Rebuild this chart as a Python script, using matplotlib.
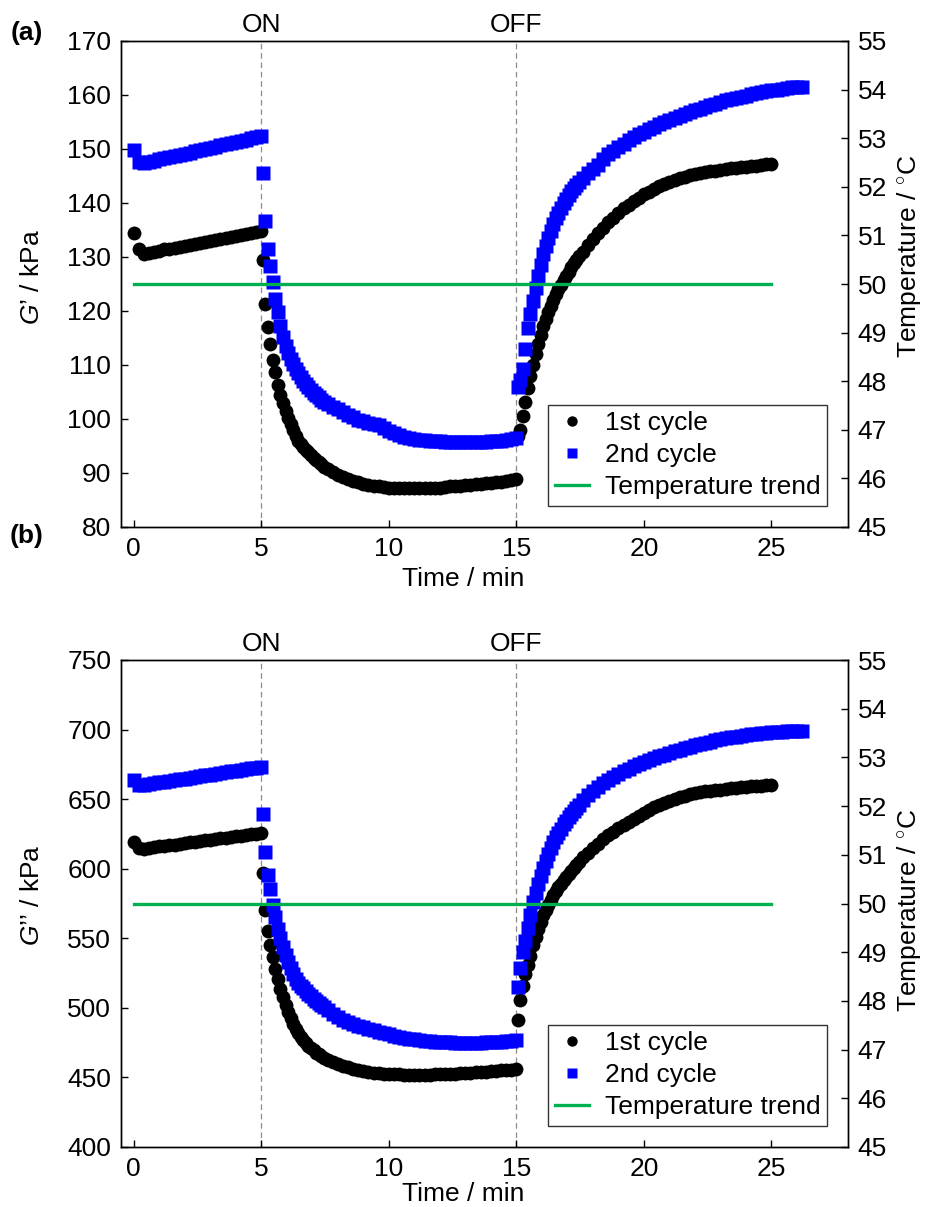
import numpy as np
import matplotlib
matplotlib.use("Agg")
from matplotlib import pyplot as plt

plt.rcParams['font.family'] = ['Liberation Sans', 'DejaVu Sans']
plt.rcParams['mathtext.fontset'] = 'custom'
plt.rcParams['mathtext.rm'] = 'Liberation Sans'
plt.rcParams['mathtext.it'] = 'Liberation Sans:italic'

# sampling grids (min): (start, step, count)
PRE = (0.0, 0.2, 26)       # 0 .. 5.0
HEAT_A = (5.05, 0.1, 25)   # 5.05 .. 7.45
HEAT_B = (7.6, 0.2, 38)    # 7.6 .. 15.0
COOL_A = (15.05, 0.1, 25)  # 15.05 .. 17.45
COOL_B = (17.6, 0.2, 38)   # 17.6 .. 25.0
COOL_B2 = (17.6, 0.2, 44)  # 17.6 .. 26.2 (2nd cycle runs longer)

# ---- (a) G' / kPa, 1st cycle ----
a1_pre = [134.5, 131.4, 130.6, 130.8, 131.0, 131.2, 131.4, 131.5, 131.7, 131.9,
          132.1, 132.3, 132.4, 132.6, 132.8, 133.0, 133.2, 133.3, 133.5, 133.7,
          133.9, 134.1, 134.3, 134.5, 134.7, 134.9]
a1_heat_a = [129.5, 121.3, 117.0, 113.8, 111.0, 108.7, 106.3, 104.5, 102.9, 101.5,
             100.2, 99.0, 97.9, 96.9, 96.0, 95.3, 94.8, 94.3, 93.8, 93.3,
             92.8, 92.4, 92.0, 91.6, 91.2]
a1_heat_b = [90.7, 90.2, 89.7, 89.3, 88.9, 88.6, 88.3, 88.0, 87.8, 87.6,
             87.5, 87.4, 87.3, 87.2, 87.2, 87.2, 87.2, 87.2, 87.2, 87.2,
             87.3, 87.3, 87.3, 87.4, 87.5, 87.5, 87.6, 87.7, 87.8, 87.9,
             88.0, 88.1, 88.2, 88.3, 88.4, 88.5, 88.7, 88.8]
a1_cool_a = [96.8, 98.0, 100.6, 103.2, 105.7, 108.0, 110.0, 112.0, 113.8, 115.5,
             117.2, 118.6, 119.8, 121.0, 122.1, 123.1, 124.0, 124.9, 125.7, 126.5,
             127.3, 128.1, 128.8, 129.5, 130.1]
a1_cool_b = [131.0, 132.2, 133.3, 134.4, 135.4, 136.4, 137.3, 138.2, 139.0, 139.7,
             140.4, 141.0, 141.6, 142.1, 142.6, 143.1, 143.5, 143.9, 144.3, 144.6,
             144.9, 145.2, 145.4, 145.6, 145.8, 145.9, 146.0, 146.2, 146.3, 146.4,
             146.5, 146.6, 146.7, 146.8, 146.9, 147.0, 147.2, 147.3]

# ---- (a) G' / kPa, 2nd cycle ----
a2_pre = [149.8, 147.6, 147.4, 147.6, 147.8, 148.1, 148.3, 148.5, 148.7, 148.9,
          149.1, 149.3, 149.6, 149.8, 150.0, 150.2, 150.4, 150.7, 150.9, 151.1,
          151.3, 151.5, 151.7, 152.0, 152.2, 152.4]
a2_heat_a = [145.5, 136.7, 131.5, 128.3, 125.3, 122.3, 119.8, 117.3, 115.2, 113.5,
             112.2, 111.2, 110.2, 109.3, 108.5, 107.8, 107.1, 106.5, 105.9, 105.4,
             104.9, 104.4, 104.0, 103.6, 103.2]
a2_heat_b = [102.8, 102.3, 101.8, 101.3, 100.8, 100.3, 99.9, 99.6, 99.3, 99.1,
             98.8, 98.3, 97.8, 97.4, 97.0, 96.7, 96.5, 96.3, 96.2, 96.1,
             96.0, 95.9, 95.9, 95.8, 95.8, 95.7, 95.7, 95.7, 95.7, 95.7,
             95.8, 95.8, 95.9, 95.9, 96.0, 96.1, 96.3, 96.5]
a2_cool_a = [106.0, 107.3, 109.3, 113.0, 116.8, 119.5, 121.8, 124.2, 126.4, 128.5,
             130.5, 132.0, 133.5, 134.9, 136.1, 137.2, 138.2, 139.1, 140.0, 140.8,
             141.5, 142.2, 142.8, 143.4, 143.9]
a2_cool_b = [144.6, 145.5, 146.3, 147.1, 148.2, 149.0, 149.7, 150.4, 151.0, 151.6,
             152.2, 152.7, 153.2, 153.7, 154.1, 154.6, 155.0, 155.4, 155.8, 156.2,
             156.5, 156.9, 157.2, 157.5, 157.8, 158.1, 158.4, 158.7, 159.0, 159.2,
             159.5, 159.7, 159.9, 160.1, 160.3, 160.5, 160.7, 160.9, 161.0, 161.2,
             161.3, 161.4, 161.5, 161.5]

# ---- (b) G'' / kPa, 1st cycle ----
b1_pre = [619.0, 614.8, 614.5, 615.0, 615.5, 616.0, 616.4, 616.9, 617.4, 617.9,
          618.4, 618.9, 619.4, 619.9, 620.3, 620.8, 621.3, 621.8, 622.3, 622.8,
          623.3, 623.8, 624.3, 624.8, 625.3, 625.8]
b1_heat_a = [596.7, 570.5, 555.5, 545.0, 536.5, 528.0, 520.5, 513.5, 507.5, 502.0,
             497.0, 492.5, 488.5, 485.0, 481.8, 479.0, 476.8, 474.8, 472.8, 471.0,
             469.4, 467.9, 466.5, 465.2, 464.0]
b1_heat_b = [462.5, 461.0, 459.6, 458.4, 457.3, 456.3, 455.4, 454.6, 454.0, 453.5,
             453.1, 452.8, 452.5, 452.3, 452.2, 452.1, 452.0, 452.0, 452.0, 452.0,
             452.1, 452.2, 452.3, 452.4, 452.6, 452.8, 453.0, 453.2, 453.4, 453.6,
             453.9, 454.1, 454.4, 454.7, 455.0, 455.3, 455.6, 456.0]
b1_cool_a = [491.0, 505.5, 515.5, 524.0, 530.5, 537.5, 545.5, 551.0, 556.5, 562.0,
             566.5, 570.5, 574.0, 577.5, 580.8, 583.8, 586.6, 589.2, 591.7, 594.1,
             596.4, 598.6, 600.8, 602.9, 605.0]
b1_cool_b = [608.3, 611.6, 615.0, 618.0, 621.1, 623.9, 626.5, 629.1, 631.5, 633.9,
             636.0, 638.0, 640.0, 642.0, 644.0, 645.8, 647.4, 648.9, 650.3, 651.5,
             652.6, 653.6, 654.4, 654.9, 655.5, 656.0, 656.5, 656.9, 657.3, 657.7,
             658.1, 658.5, 658.8, 659.1, 659.4, 659.8, 660.1, 660.5]

# ---- (b) G'' / kPa, 2nd cycle ----
b2_pre = [663.7, 660.5, 660.3, 660.9, 661.4, 662.0, 662.6, 663.1, 663.7, 664.3,
          664.8, 665.4, 666.0, 666.5, 667.1, 667.7, 668.2, 668.8, 669.4, 669.9,
          670.5, 671.1, 671.6, 672.2, 672.7, 673.2]
b2_heat_a = [639.3, 611.7, 595.5, 585.2, 574.0, 565.0, 557.0, 550.0, 543.5, 538.0,
             533.0, 528.5, 524.5, 521.0, 517.8, 516.0, 514.0, 512.0, 510.0, 508.2,
             506.5, 504.9, 503.4, 502.0, 500.6]
b2_heat_b = [498.8, 495.5, 493.2, 491.3, 489.8, 488.4, 487.2, 486.0, 484.9, 483.8,
             482.8, 481.8, 480.9, 480.0, 479.2, 478.5, 477.9, 477.3, 476.8, 476.4,
             476.0, 475.7, 475.5, 475.3, 475.2, 475.1, 475.1, 475.0, 475.0, 475.0,
             475.1, 475.2, 475.3, 475.5, 475.7, 476.0, 476.4, 476.9]
b2_cool_a = [515.0, 529.0, 540.0, 548.0, 557.5, 566.5, 576.0, 582.5, 589.0, 595.0,
             600.5, 605.5, 610.5, 615.0, 619.0, 622.5, 625.8, 628.9, 631.8, 634.5,
             637.0, 639.4, 641.6, 643.7, 645.7]
b2_cool_b = [649.3, 652.8, 656.0, 658.8, 661.4, 663.8, 666.0, 668.1, 670.0, 671.8,
             673.5, 675.1, 676.6, 678.0, 679.4, 680.7, 682.0, 683.2, 684.4, 685.5,
             686.6, 687.6, 688.6, 689.6, 690.5, 691.4, 692.2, 693.0, 693.7, 694.4,
             695.0, 695.6, 696.1, 696.6, 697.0, 697.4, 697.7, 698.0, 698.3, 698.5,
             698.7, 698.9, 699.0, 699.1]

temp_t = [0, 25]
temp_c = [50, 50]
switch_t = [5, 15]
switch_lbl = ['ON', 'OFF']


def series(parts):
    # parts: list of (grid, values); times come from the sampling grid
    t, v = [], []
    for (t0, dt, n), vals in parts:
        assert len(vals) == n, (t0, len(vals), n)
        t.append(t0 + dt * np.arange(n))
        v.append(np.asarray(vals, float))
    return np.concatenate(t), np.concatenate(v)


c1_a = series([(PRE, a1_pre), (HEAT_A, a1_heat_a), (HEAT_B, a1_heat_b),
               (COOL_A, a1_cool_a), (COOL_B, a1_cool_b)])
c2_a = series([(PRE, a2_pre), (HEAT_A, a2_heat_a), (HEAT_B, a2_heat_b),
               (COOL_A, a2_cool_a), (COOL_B2, a2_cool_b)])
c1_b = series([(PRE, b1_pre), (HEAT_A, b1_heat_a), (HEAT_B, b1_heat_b),
               (COOL_A, b1_cool_a), (COOL_B, b1_cool_b)])
c2_b = series([(PRE, b2_pre), (HEAT_A, b2_heat_a), (HEAT_B, b2_heat_b),
               (COOL_A, b2_cool_a), (COOL_B2, b2_cool_b)])

FS = 19
W, H = 925, 1207
fig = plt.figure(figsize=(W / 100, H / 100), dpi=100)


def panel(rect, c1, c2, ylim, yticks, ylabel, ylab_y, tlab_y, xlab_y):
    ax = fig.add_axes(rect)
    for x in switch_t:
        ax.axvline(x, color='#8c8c8c', lw=0.9, ls=(0, (4.5, 3)), zorder=0)
    for x, s in zip(switch_t, switch_lbl):
        ax.text(x, 1.008, s, transform=ax.get_xaxis_transform(),
                ha='center', va='bottom', fontsize=FS)
    h1, = ax.plot(c1[0], c1[1], 'o', ms=10, color='black', mec='none',
                  label='1st cycle')
    h2, = ax.plot(c2[0], c2[1], 's', ms=9.8, color='#0000ff', mec='none',
                  label='2nd cycle')
    ax.set_xlim(-0.5, 28)
    ax.set_ylim(*ylim)
    ax.set_xticks([0, 5, 10, 15, 20, 25])
    ax.set_yticks(yticks)
    ax.tick_params(direction='in', length=5, width=1, labelsize=FS, pad=7,
                   top=False, right=False)
    ax.set_ylabel(ylabel, fontsize=FS)
    ax.yaxis.set_label_coords(-0.106, ylab_y)
    ax.set_xlabel('Time / min', fontsize=FS)
    ax.xaxis.set_label_coords(0.47, xlab_y)

    ax2 = ax.twinx()
    h3, = ax2.plot(temp_t, temp_c, color='#00b050', lw=2.4,
                   label='Temperature trend')
    ax2.set_ylim(45, 55)
    ax2.set_yticks(range(45, 56))
    ax2.tick_params(direction='in', length=5, width=1, labelsize=FS, pad=7)
    ax2.set_ylabel(r'Temperature / $^{\circ}$C', fontsize=FS)
    ax2.yaxis.set_label_coords(1.065, tlab_y)
    for a in (ax, ax2):
        for sp in a.spines.values():
            sp.set_linewidth(1.0)
    leg = ax2.legend([h1, h2, h3], ['1st cycle', '2nd cycle', 'Temperature trend'],
                     loc='lower right', fontsize=FS, frameon=True, fancybox=False,
                     edgecolor='#333333', framealpha=1, markerscale=0.75,
                     handlelength=1.3, handletextpad=0.6, borderpad=0.25,
                     labelspacing=0.3, borderaxespad=0.8)
    leg.get_frame().set_linewidth(1.0)
    return ax


panel([121 / W, 1 - 527 / H, 727 / W, 486 / H], c1_a, c2_a, (80, 170),
      range(80, 171, 10), r'$\mathit{G}$’ / kPa', 0.514, 0.556, -0.082)
panel([121 / W, 1 - 1147 / H, 727 / W, 487 / H], c1_b, c2_b, (400, 750),
      range(400, 751, 50), r'$\mathit{G}$’’ / kPa', 0.517, 0.485, -0.072)

fig.text(27 / W, 1 - 33 / H, '(a)', fontsize=FS, fontweight='bold',
         ha='center', va='center')
fig.text(27 / W, 1 - 536 / H, '(b)', fontsize=FS, fontweight='bold',
         ha='center', va='center')

fig.savefig('out.png', dpi=100)
